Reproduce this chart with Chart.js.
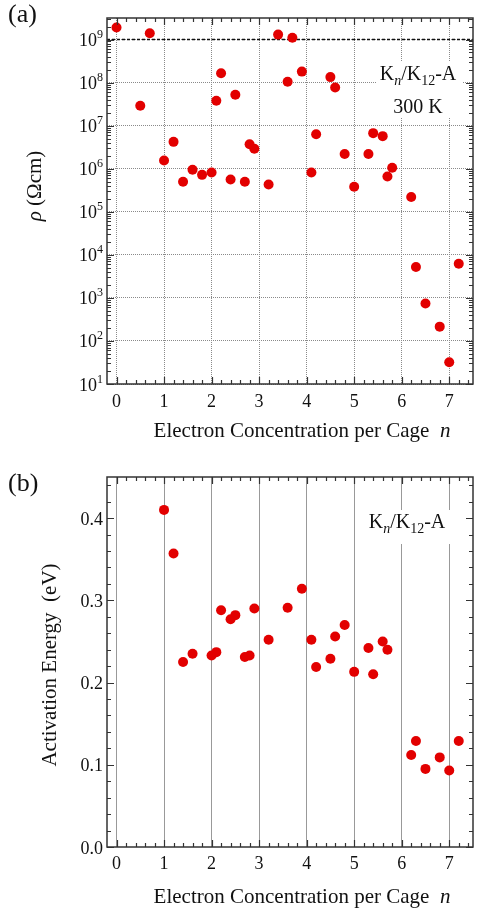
<!DOCTYPE html>
<html>
<head>
<meta charset="utf-8">
<script src="https://cdn.jsdelivr.net/npm/chart.js@4.4.1/dist/chart.umd.min.js"></script>
<style>
  body { margin: 0; background: #fff; }
  #wrap { position: relative; width: 478px; height: 914px; }
  canvas { position: absolute; left: 0; }
</style>
</head>
<body>
<div id="wrap">
  <canvas id="chartA" width="478" height="457" style="top:0"></canvas>
  <canvas id="chartB" width="478" height="457" style="top:457px"></canvas>
</div>
<script>
// panel (a): resistivity at 300 K
var nA = [0, 0.5, 0.7, 1.0, 1.2, 1.4, 1.6, 1.8, 2.0, 2.1, 2.2, 2.4, 2.5, 2.7, 2.8, 2.9,
          3.2, 3.4, 3.6, 3.7, 3.9, 4.1, 4.2, 4.5, 4.6, 4.8, 5.0, 5.3, 5.4, 5.6, 5.7, 5.8,
          6.2, 6.3, 6.5, 6.8, 7.0, 7.2];
var rho = [1.9e9, 2.9e7, 1.4e9, 1.55e6, 4.2e6, 5e5, 9.5e5, 7.2e5, 8.2e5, 3.8e7, 1.65e8, 5.6e5, 5.2e7, 5e5, 3.7e6, 2.9e6,
           4.3e5, 1.3e9, 1.05e8, 1.1e9, 1.8e8, 8.2e5, 6.3e6, 1.34e8, 7.7e7, 2.2e6, 3.8e5, 2.2e6, 6.7e6, 5.7e6, 6.6e5, 1.05e6,
           2.2e5, 5.2e3, 740, 215, 32, 6.2e3];
var rhoLimit = 1e9;
var rhoTicks = [1, 2, 3, 4, 5, 6, 7, 8, 9];  // exponents

// panel (b): activation energy
var nB = [1.0, 1.2, 1.4, 1.6, 2.0, 2.1, 2.2, 2.4, 2.5, 2.7, 2.8, 2.9, 3.2, 3.6, 3.9,
          4.1, 4.2, 4.5, 4.6, 4.8, 5.0, 5.3, 5.4, 5.6, 5.7, 6.2, 6.3, 6.5, 6.8, 7.0, 7.2];
var energy = [0.410, 0.357, 0.225, 0.235, 0.233, 0.237, 0.288, 0.277, 0.282, 0.231, 0.233, 0.290, 0.252, 0.291, 0.314,
              0.252, 0.219, 0.229, 0.256, 0.270, 0.213, 0.242, 0.210, 0.250, 0.240, 0.112, 0.129, 0.095, 0.109, 0.093, 0.129];
var energyTicks = [0.0, 0.1, 0.2, 0.3, 0.4];
var nTicks = [0, 1, 2, 3, 4, 5, 6, 7];

var SERIF = '"Liberation Serif", "Times New Roman", serif';
var RED = 'rgb(226, 0, 0)';

function pts(xs, ys) {
  var out = [];
  for (var i in xs) out.push({x: xs[i], y: ys[i]});
  return out;
}

// draw text made of runs: [text, size, italic, dy]
function runsWidth(ctx, runs) {
  var w = 0;
  runs.forEach(function(r) {
    ctx.font = (r[2] ? 'italic ' : '') + r[1] + 'px ' + SERIF;
    w += ctx.measureText(r[0]).width;
  });
  return w;
}
function drawRuns(ctx, runs, x, y, align) {
  var w = runsWidth(ctx, runs);
  var cx = align === 'center' ? x - w / 2 : (align === 'right' ? x - w : x);
  ctx.textAlign = 'left';
  ctx.textBaseline = 'alphabetic';
  runs.forEach(function(r) {
    ctx.font = (r[2] ? 'italic ' : '') + r[1] + 'px ' + SERIF;
    ctx.fillText(r[0], cx, y + (r[3] || 0));
    cx += ctx.measureText(r[0]).width;
  });
  return w;
}

var decor = {
  id: 'decor',
  beforeDatasetsDraw: function(chart, args, o) {
    var ctx = chart.ctx, xs = chart.scales.x, ys = chart.scales.y;
    ctx.save();
    // threshold line
    if (o.limit) {
      var yl = ys.getPixelForValue(o.limit);
      ctx.strokeStyle = '#111';
      ctx.lineWidth = 1.5;
      ctx.setLineDash([3, 2]);
      ctx.beginPath();
      ctx.moveTo(chart.chartArea.left, yl);
      ctx.lineTo(chart.chartArea.right, yl);
      ctx.stroke();
      ctx.setLineDash([]);
    }
    // label box
    ctx.fillStyle = '#fff';
    ctx.fillRect(o.box[0], o.box[1], o.box[2], o.box[3]);
    ctx.fillStyle = '#111';
    o.labels.forEach(function(l) { drawRuns(ctx, l.runs, l.x, l.y, 'center'); });
    ctx.restore();
  },
  afterDraw: function(chart, args, o) {
    var ctx = chart.ctx, a = chart.chartArea, xs = chart.scales.x, ys = chart.scales.y;
    ctx.save();
    ctx.strokeStyle = '#333';
    ctx.lineWidth = 1.2;
    ctx.beginPath();
    // x ticks every 0.2, top and bottom, pointing inward
    for (var k = 0; k <= 37; k++) {
      var v = k * 0.2;
      if (v > xs.max + 1e-6) break;
      var px = Math.round(xs.getPixelForValue(v)) + 0.5;
      var len = (k % 5 === 0) ? 7 : 4;
      ctx.moveTo(px, a.bottom); ctx.lineTo(px, a.bottom - len);
      ctx.moveTo(px, a.top); ctx.lineTo(px, a.top + len);
    }
    // y ticks
    o.yTicks.forEach(function(t) {
      var py = Math.round(ys.getPixelForValue(t[0])) + 0.5;
      var len = t[1] ? 7 : 4;
      ctx.moveTo(a.left, py); ctx.lineTo(a.left + len, py);
      ctx.moveTo(a.right, py); ctx.lineTo(a.right - len, py);
    });
    ctx.stroke();
    // frame
    ctx.lineWidth = 1.5;
    ctx.strokeRect(a.left, a.top, a.right - a.left, a.bottom - a.top);

    // tick labels
    ctx.fillStyle = '#111';
    ctx.font = '18px ' + SERIF;
    ctx.textAlign = 'center';
    ctx.textBaseline = 'alphabetic';
    nTicks.forEach(function(v) {
      ctx.fillText(String(v), xs.getPixelForValue(v), a.bottom + o.xLabelDy);
    });
    o.yLabels.forEach(function(l) {
      drawRuns(ctx, l.runs, a.left - 4, ys.getPixelForValue(l.v) + 6.5, 'right');
    });

    // axis titles
    drawRuns(ctx, [['Electron Concentration per Cage  ', 21], ['n', 21, true]],
             (a.left + a.right) / 2 + 12, a.bottom + o.xTitleDy, 'center');
    ctx.save();
    ctx.translate(o.yTitleX, o.yTitleY);
    ctx.rotate(-Math.PI / 2);
    drawRuns(ctx, o.yTitle, 0, 0, 'center');
    ctx.restore();
    // panel letter
    drawRuns(ctx, [[o.panel, 26]], 8, o.panelY, 'left');
    ctx.restore();
  }
};

function fixTicks(list) {
  return function(scale) { scale.ticks = list.map(function(v) { return {value: v}; }); };
}

// ---- panel (a)
var rhoMinor = [];
for (var e = 1; e <= 9; e++) {
  rhoMinor.push([Math.pow(10, e), true]);
  for (var m = 2; m <= 9; m++) {
    var val = m * Math.pow(10, e);
    if (val <= Math.pow(10, 9.5)) rhoMinor.push([val, false]);
  }
}

new Chart(document.getElementById('chartA'), {
  type: 'scatter',
  data: {
    datasets: [{
      label: 'rho',
      data: pts(nA, rho),
      pointRadius: 5,
      pointHoverRadius: 5,
      pointBackgroundColor: RED,
      pointBorderWidth: 0,
      borderWidth: 0
    }]
  },
  options: {
    responsive: false,
    animation: false,
    events: [],
    layout: { padding: { top: 18, right: 1, left: 0, bottom: 0 } },
    plugins: {
      legend: { display: false },
      tooltip: { enabled: false },
      decor: {
        limit: rhoLimit,
        box: [376, 61, 86, 56],
        labels: [
          { x: 418, y: 80, runs: [['K', 20], ['n', 14, true, 5], ['/K', 20], ['12', 14, false, 5], ['-A', 20]] },
          { x: 418, y: 113, runs: [['300 K', 20]] }
        ],
        yTicks: rhoMinor,
        yLabels: rhoTicks.map(function(e) {
          return { v: Math.pow(10, e), runs: [['10', 18], [String(e), 12, false, -8]] };
        }),
        xLabelDy: 23,
        xTitleDy: 53,
        yTitle: [['\u03C1', 21, true], [' (\u03A9cm)', 21]],
        yTitleX: 41,
        yTitleY: 186,
        panel: '(a)',
        panelY: 22
      }
    },
    scales: {
      x: {
        type: 'linear', min: -0.2, max: 7.5,
        afterBuildTicks: fixTicks(nTicks),
        afterFit: function(s) { s.height = 73; },
        ticks: { display: false },
        grid: { color: '#8a8a8a', lineWidth: 1, drawTicks: false, borderDash: [1, 1] },
        border: { display: false, dash: [1, 1] }
      },
      y: {
        type: 'logarithmic', min: 10, max: Math.pow(10, 9.5),
        afterBuildTicks: fixTicks(rhoTicks.map(function(e) { return Math.pow(10, e); })),
        afterFit: function(s) { s.width = 107; },
        ticks: { display: false },
        grid: { color: '#8a8a8a', lineWidth: 1, drawTicks: false, borderDash: [1, 1] },
        border: { display: false, dash: [1, 1] }
      }
    }
  },
  plugins: [decor]
});

// ---- panel (b)
var eMinor = [];
for (var k = 0; k <= 22; k++) eMinor.push([k * 0.02, k % 5 === 0]);

new Chart(document.getElementById('chartB'), {
  type: 'scatter',
  data: {
    datasets: [{
      label: 'Ea',
      data: pts(nB, energy),
      pointRadius: 5,
      pointHoverRadius: 5,
      pointBackgroundColor: RED,
      pointBorderWidth: 0,
      borderWidth: 0
    }]
  },
  options: {
    responsive: false,
    animation: false,
    events: [],
    layout: { padding: { top: 20, right: 1, left: 0, bottom: 0 } },
    plugins: {
      legend: { display: false },
      tooltip: { enabled: false },
      decor: {
        limit: null,
        box: [364, 53, 86, 34],
        labels: [
          { x: 407, y: 71, runs: [['K', 20], ['n', 14, true, 5], ['/K', 20], ['12', 14, false, 5], ['-A', 20]] }
        ],
        yTicks: eMinor,
        yLabels: energyTicks.map(function(v) {
          return { v: v, runs: [[v.toFixed(1), 18]] };
        }),
        xLabelDy: 22,
        xTitleDy: 56,
        yTitle: [['Activation Energy  (eV)', 21]],
        yTitleX: 56,
        yTitleY: 208,
        panel: '(b)',
        panelY: 34
      }
    },
    scales: {
      x: {
        type: 'linear', min: -0.2, max: 7.5,
        afterBuildTicks: fixTicks(nTicks),
        afterFit: function(s) { s.height = 67; },
        ticks: { display: false },
        grid: { color: '#999', lineWidth: 1, drawTicks: false },
        border: { display: false }
      },
      y: {
        type: 'linear', min: 0, max: 0.45,
        afterBuildTicks: fixTicks(energyTicks),
        afterFit: function(s) { s.width = 107; },
        ticks: { display: false },
        grid: { display: false },
        border: { display: false }
      }
    }
  },
  plugins: [decor]
});
</script>
</body>
</html>
